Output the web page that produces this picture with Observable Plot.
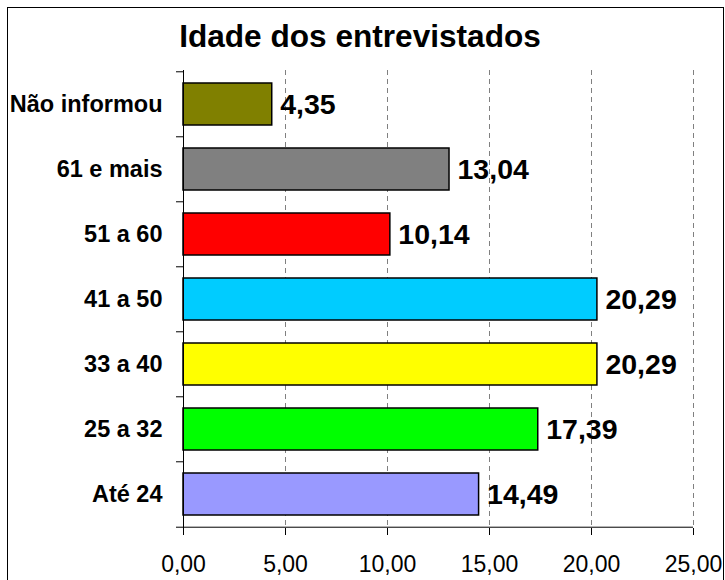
<!DOCTYPE html>
<html><head><meta charset="utf-8">
<script src="https://cdn.jsdelivr.net/npm/d3@7"></script>
<script src="https://cdn.jsdelivr.net/npm/@observablehq/plot@0.6"></script>
<style>
body{margin:0;background:#fff;}
#wrap{position:relative;width:725px;height:580px;overflow:hidden;font-family:"Liberation Sans",Arial,sans-serif;background:#fff;}
#border{position:absolute;left:7px;top:7px;width:715px;height:620px;border:1px solid #000;}
#title{position:absolute;left:0;top:21px;width:720px;text-align:center;font-size:31.6px;font-weight:bold;line-height:31px;color:#000;}
#chart{position:absolute;left:0;top:0;}
</style></head><body>
<div id="wrap"><div id="border"></div><div id="chart"></div><div id="title">Idade dos entrevistados</div></div>
<script>
const categories = ["Não informou","61 e mais","51 a 60","41 a 50","33 a 40","25 a 32","Até 24"];
const values = [4.35, 13.04, 10.14, 20.29, 20.29, 17.39, 14.49];
const colors = ["#808000","#808080","#FF0000","#00CCFF","#FFFF00","#00FF00","#9999FF"];
const xTicks = [0, 5, 10, 15, 20, 25];

const data = categories.map((c, i) => ({category: c, value: values[i], color: colors[i]}));
const W = 725, H = 580, mL = 183, mR = 32, mT = 70, mB = 52;
const step = (H - mT - mB) / categories.length;
const fmt = d => d.toFixed(2).replace(".", ",");
const font = '"Liberation Sans", Arial, sans-serif';

const chart = Plot.plot({
  width: W, height: H,
  marginLeft: mL, marginRight: mR, marginTop: mT, marginBottom: mB,
  style: {fontFamily: font, background: "transparent", color: "#000", overflow: "visible"},
  x: {domain: [0, 25]},
  y: {domain: categories, paddingInner: 0.35, paddingOuter: 0.175},
  color: {type: "identity"},
  marks: [
    Plot.gridX(xTicks.slice(1), {stroke: "#808080", strokeOpacity: 1, strokeDasharray: "5,4"}),
    Plot.barX(data, {x: "value", y: "category", fill: "color", stroke: "#000", strokeWidth: 1.5}),
    Plot.text(data, {x: "value", y: "category", text: d => fmt(d.value), textAnchor: "start", dx: 8, fontSize: 28.5, fontWeight: "bold", fill: "#000"}),
    Plot.ruleX([0], {stroke: "#000"}),
    Plot.ruleY([categories[categories.length - 1]], {x1: 0, x2: 25, dy: step / 2, stroke: "#000"}),
    Plot.axisX({ticks: xTicks, tickSize: 7, tickPadding: 20, tickFormat: fmt, fontSize: 23, label: null, stroke: "#000"}),
    Plot.axisY({ticks: categories, tickSize: 0, tickPadding: 21, fontSize: 23.5, fontWeight: "bold", label: null}),
    Plot.axisY({ticks: categories, tickSize: 7, tickFormat: () => "", dy: -step / 2, label: null, stroke: "#000"}),
    Plot.axisY({ticks: [categories[categories.length - 1]], tickSize: 7, tickFormat: () => "", dy: step / 2, label: null, stroke: "#000"})
  ]
});
document.getElementById("chart").appendChild(chart);
</script>
</body></html>
